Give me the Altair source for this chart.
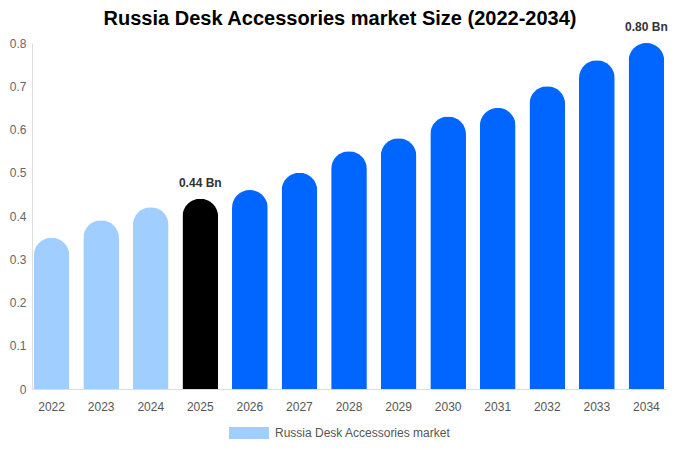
import altair as alt
import pandas as pd

years = ["2022", "2023", "2024", "2025", "2026", "2027", "2028", "2029", "2030", "2031", "2032", "2033", "2034"]
values = [0.35, 0.39, 0.42, 0.44, 0.46, 0.50, 0.55, 0.58, 0.63, 0.65, 0.70, 0.76, 0.80]
phases = ["hist", "hist", "hist", "base", "fc", "fc", "fc", "fc", "fc", "fc", "fc", "fc", "fc"]
labels = ["", "", "", "0.44 Bn", "", "", "", "", "", "", "", "", "0.80 Bn"]
series_name = "Russia Desk Accessories market"

df = pd.DataFrame({"year": years, "value": values, "phase": phases, "label": labels})

x_enc = alt.X("year:N", sort=years, title=None,
              scale=alt.Scale(paddingInner=0.28, paddingOuter=0.035),
              axis=alt.Axis(labelAngle=0, ticks=False, domainColor="#dddddd",
                            labelColor="#555555", labelFontSize=12, labelPadding=12,
                            labelFont="Liberation Sans"))
y_enc = alt.Y("value:Q", title=None,
              scale=alt.Scale(domain=[0, 0.8], nice=False),
              axis=alt.Axis(values=[0, 0.1, 0.2, 0.3, 0.4, 0.5, 0.6, 0.7, 0.8], format=".1~f",
                            ticks=False, grid=False, domainColor="#dddddd",
                            labelColor="#666666", labelFontSize=12, labelPadding=6,
                            labelFont="Liberation Sans"))

bars = alt.Chart(df).mark_bar(cornerRadiusTopLeft=18, cornerRadiusTopRight=18).encode(
    x=x_enc,
    y=y_enc,
    fill=alt.Fill("phase:N", scale=alt.Scale(domain=["hist", "base", "fc"],
                                            range=["#a0cfff", "#000000", "#0066ff"]),
                  legend=alt.Legend(title=None, orient="none", legendX=197, legendY=370,
                                    values=["hist"], labelExpr="'" + series_name + "'",
                                    symbolType="M-1,-0.3L1,-0.3L1,0.3L-1,0.3Z",
                                    symbolSize=1600, symbolStrokeWidth=0,
                                    labelFontSize=12, labelColor="#555555", labelLimit=400,
                                    labelFont="Liberation Sans", labelOffset=6)),
)

text = alt.Chart(df).transform_filter("datum.label != ''").mark_text(
    dy=-16, fontSize=12, fontWeight="bold", color="#333333", font="Liberation Sans"
).encode(x=alt.X("year:N", sort=years), y="value:Q", text="label:N")

chart = alt.layer(bars, text).properties(
    width=634, height=346,
    title=alt.TitleParams("Russia Desk Accessories market Size (2022-2034)", fontSize=20,
                          fontWeight="bold", font="Liberation Sans", color="#000000",
                          anchor="middle", dx=-9, dy=8, offset=0),
    padding={"left": 24, "top": 35, "right": 6, "bottom": 53},
    autosize=alt.AutoSizeParams(type="none"),
).configure_view(stroke=None)

chart.save("out.html", embed_options={"renderer": "svg", "actions": False})
